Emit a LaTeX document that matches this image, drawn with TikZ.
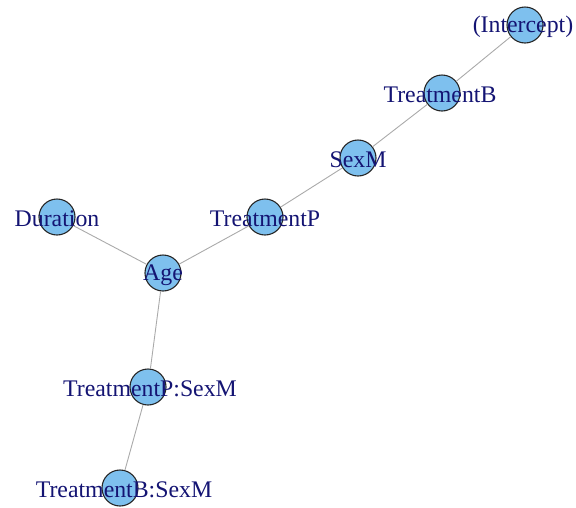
\documentclass[tikz,border=0pt]{standalone}
\usepackage{fontspec}
\setmainfont{Liberation Serif}
\definecolor{vfill}{RGB}{126,192,238}
\definecolor{vlabel}{RGB}{20,20,115}
\definecolor{edgegray}{RGB}{170,170,170}
\begin{document}
\begin{tikzpicture}[x=1pt,y=-1pt,
  vert/.style={circle,draw=black!85,line width=1.1pt,fill=vfill,minimum size=36pt,inner sep=0pt},
  vlab/.style={text=vlabel,font=\fontsize{23.8}{25}\selectfont,inner sep=0pt,anchor=center,yshift=-2pt},
  edge/.style={draw=edgegray,line width=0.9pt}]
\useasboundingbox (0,0) rectangle (576,507);
% vertex positions
\coordinate (pI) at (525,25);
\coordinate (pTB) at (442,93);
\coordinate (pS) at (358,158);
\coordinate (pTP) at (265,217);
\coordinate (pD) at (57,217);
\coordinate (pA) at (163,273);
\coordinate (pTPS) at (148,387);
\coordinate (pTBS) at (120,488);
% vertices
\node[vert] (I) at (pI) {};
\node[vert] (TB) at (pTB) {};
\node[vert] (S) at (pS) {};
\node[vert] (TP) at (pTP) {};
\node[vert] (D) at (pD) {};
\node[vert] (A) at (pA) {};
\node[vert] (TPS) at (pTPS) {};
\node[vert] (TBS) at (pTBS) {};
% edges
\draw[edge] (I) -- (TB);
\draw[edge] (TB) -- (S);
\draw[edge] (S) -- (TP);
\draw[edge] (TP) -- (A);
\draw[edge] (D) -- (A);
\draw[edge] (A) -- (TPS);
\draw[edge] (TPS) -- (TBS);
% labels
\node[vlab] (lI) at ([xshift=-2pt]pI) {(Intercept)};
\node[vlab] (lTB) at ([xshift=-2pt]pTB) {TreatmentB};
\node[vlab] (lS) at (pS) {SexM};
\node[vlab] (lTP) at (pTP) {TreatmentP};
\node[vlab] (lD) at (pD) {Duration};
\node[vlab] (lA) at (pA) {Age};
\node[vlab] (lTPS) at ([xshift=2pt]pTPS) {TreatmentP:SexM};
\node[vlab] (lTBS) at ([xshift=4pt]pTBS) {TreatmentB:SexM};
\end{tikzpicture}
\end{document}
